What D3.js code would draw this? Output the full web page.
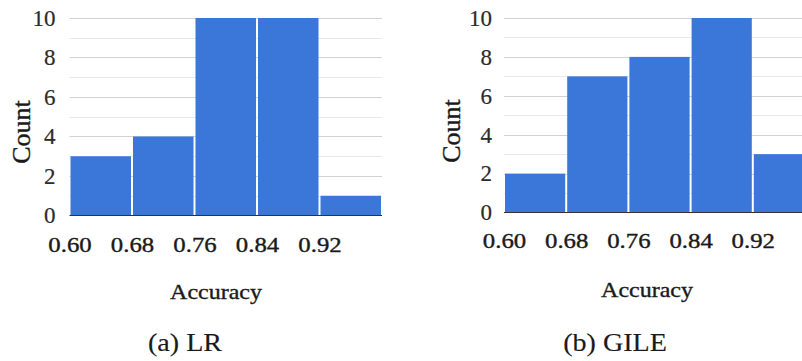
<!DOCTYPE html>
<html>
<head>
<meta charset="utf-8">
<script src="https://cdn.jsdelivr.net/npm/d3@7"></script>
<style>
  html, body { margin: 0; padding: 0; background: #fff; }
  svg { display: block; }
  text { font-family: "Liberation Serif", "Times New Roman", serif; fill: #1a1a1a; stroke: #1a1a1a; stroke-width: 0.35px; }
</style>
</head>
<body>
<svg id="chart" width="802" height="361"></svg>
<script>
// Histogram bins of accuracy (edges) and counts per bin for each model
const binEdges = [0.60, 0.68, 0.76, 0.84, 0.92, 1.00];
const xTickValues = [0.60, 0.68, 0.76, 0.84, 0.92];
const xTickLabels = ["0.60", "0.68", "0.76", "0.84", "0.92"];
const yTickValues = [0, 2, 4, 6, 8, 10];
const lrCounts = [3, 4, 10, 10, 1];
const gileCounts = [2, 7, 8, 10, 3];
const captions = ["(a) LR", "(b) GILE"];
const xTitle = "Accuracy";
const yTitle = "Count";

const svg = d3.select("#chart");
const BAR = "#3b77d8";

function drawPanel(opts) {
  const g = svg.append("g");
  const x = d3.scaleLinear().domain([binEdges[0], binEdges[binEdges.length - 1]]).range([opts.x0, opts.x1]);
  const y = d3.scaleLinear().domain([0, 10]).range([opts.y0, opts.y1]);
  const gridRight = Math.min(opts.x1, 802);

  // minor gridlines (odd counts) and major gridlines (even counts)
  const minor = d3.range(1, 10, 2);
  g.selectAll("line.minor").data(minor).join("line")
    .attr("x1", opts.x0).attr("x2", gridRight)
    .attr("y1", d => Math.round(y(d)) + 0.5).attr("y2", d => Math.round(y(d)) + 0.5)
    .attr("stroke", "#e8e8e8").attr("stroke-width", 1);
  g.selectAll("line.major").data(yTickValues.filter(d => d > 0)).join("line")
    .attr("x1", opts.x0).attr("x2", gridRight)
    .attr("y1", d => Math.round(y(d)) + 0.5).attr("y2", d => Math.round(y(d)) + 0.5)
    .attr("stroke", "#d2d2d2").attr("stroke-width", 1);

  // bars
  const bins = opts.counts.map((c, i) => ({ x0: binEdges[i], x1: binEdges[i + 1], c }));
  g.selectAll("rect.bar").data(bins).join("rect")
    .attr("x", d => x(d.x0) + 1)
    .attr("width", d => x(d.x1) - x(d.x0) - 2)
    .attr("y", d => y(d.c))
    .attr("height", d => y(0) - y(d.c))
    .attr("fill", BAR);

  // baseline
  g.append("line")
    .attr("x1", opts.x0).attr("x2", gridRight)
    .attr("y1", y(0)).attr("y2", y(0))
    .attr("stroke", "#333").attr("stroke-width", 1);

  // y axis
  const yAxis = d3.axisLeft(y).tickValues(yTickValues).tickSize(0).tickPadding(opts.yPad).tickFormat(d3.format("d"));
  const ya = g.append("g").attr("transform", `translate(${opts.x0},0)`).call(yAxis);
  ya.select(".domain").remove();
  ya.selectAll("text")
    .attr("font-size", 23)
    .style("fill", "#2b2b2b").style("stroke", "#2b2b2b").style("stroke-width", "0.2px");

  // x axis
  const xAxis = d3.axisBottom(x).tickValues(xTickValues).tickSize(0).tickPadding(0)
    .tickFormat((d, i) => xTickLabels[i]);
  const xa = g.append("g").attr("transform", `translate(0,${opts.xLabelY})`).call(xAxis);
  xa.select(".domain").remove();
  xa.selectAll("text")
    .attr("dy", null).attr("y", 0)
    .attr("font-size", 20)
    .attr("transform", "scale(1.24,1)");

  // axis titles
  g.append("text")
    .attr("transform", `translate(${opts.countX},${opts.countY}) rotate(-90)`)
    .attr("text-anchor", "middle")
    .attr("font-size", 26)
    .text(yTitle);

  g.append("text")
    .attr("transform", `translate(${opts.accX},${opts.accY}) scale(1.2,1)`)
    .attr("text-anchor", "middle")
    .attr("font-size", 20)
    .text(xTitle);

  g.append("text")
    .attr("transform", `translate(${opts.capX},${opts.capY}) scale(1.08,1)`)
    .attr("text-anchor", "middle")
    .attr("font-size", 26)
    .style("stroke-width", "0.15px")
    .text(opts.caption);
}

drawPanel({
  counts: lrCounts, caption: captions[0],
  x0: 69.5, x1: 382, y0: 215.5, y1: 18, yPad: 14, xLabelY: 252,
  countX: 30, countY: 132, accX: 216, accY: 299, capX: 185, capY: 351
});

drawPanel({
  counts: gileCounts, caption: captions[1],
  x0: 504, x1: 815, y0: 212.5, y1: 18, yPad: 12, xLabelY: 248,
  countX: 460, countY: 131, accX: 647, accY: 297, capX: 615, capY: 351
});
</script>
</body>
</html>
